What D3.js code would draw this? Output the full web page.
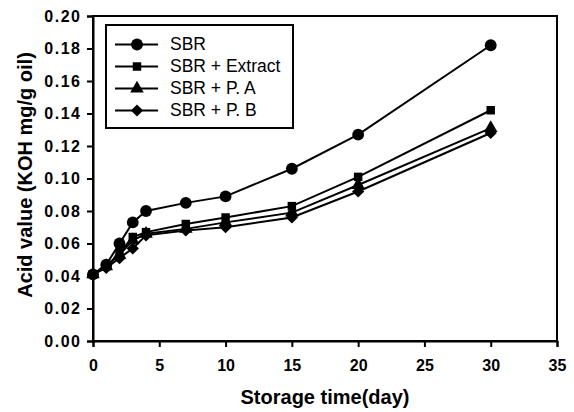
<!DOCTYPE html>
<html><head><meta charset="utf-8">
<script src="https://cdn.jsdelivr.net/npm/d3@7"></script>
<style>body{margin:0;background:#fff;} svg{display:block;}</style>
</head><body>
<svg id="c" width="574" height="412"></svg>
<script>
const days = [0, 1, 2, 3, 4, 7, 10, 15, 20, 30];
const seriesNames = ["SBR", "SBR + Extract", "SBR + P. A", "SBR + P. B"];
const sbr      = [0.041, 0.047, 0.060, 0.073, 0.080, 0.085, 0.089, 0.106, 0.127, 0.182];
const extract  = [0.041, 0.046, 0.054, 0.064, 0.067, 0.072, 0.076, 0.083, 0.101, 0.142];
const pA       = [0.041, 0.046, 0.053, 0.062, 0.066, 0.069, 0.073, 0.079, 0.096, 0.131];
const pB       = [0.041, 0.045, 0.051, 0.057, 0.065, 0.068, 0.070, 0.076, 0.092, 0.128];
const xTicks = [0, 5, 10, 15, 20, 25, 30, 35];
const yTicks = [0, 0.02, 0.04, 0.06, 0.08, 0.10, 0.12, 0.14, 0.16, 0.18, 0.20];
const symbols = [d3.symbolCircle, d3.symbolSquare, d3.symbolTriangle, d3.symbolSquare];
const symRot = [0, 0, 0, 45];
const symSizes = [110, 72, 80, 75];
const allSeries = [sbr, extract, pA, pB];

const svg = d3.select("#c");
const L = 93, R = 557, T = 16, B = 341;
const x = d3.scaleLinear().domain([0, 35]).range([L, R]);
const y = d3.scaleLinear().domain([0, 0.2]).range([B, T]);
const font = "'Liberation Sans', Arial, sans-serif";

// frame
svg.append("rect").attr("x", L).attr("y", T).attr("width", R - L).attr("height", B - T)
  .attr("fill", "none").attr("stroke", "#000").attr("stroke-width", 2);

const xa = svg.append("g").attr("transform", `translate(0,${B})`)
  .call(d3.axisBottom(x).tickValues(xTicks).tickSize(6).tickPadding(13).tickFormat(d3.format("d")));
const ya = svg.append("g").attr("transform", `translate(${L},0)`)
  .call(d3.axisLeft(y).tickValues(yTicks).tickSize(6).tickPadding(7).tickFormat(d3.format(".2f")));
[xa, ya].forEach(a => {
  a.select(".domain").attr("stroke-width", 2);
  a.selectAll(".tick line").attr("stroke-width", 2);
  a.selectAll("text").attr("font-family", font).attr("font-size", 16).attr("font-weight", "bold").attr("fill", "#000");
});
ya.selectAll("text").attr("letter-spacing", 1.5).attr("dx", 1.5);

svg.append("text").attr("x", (L + R) / 2).attr("y", 404).attr("text-anchor", "middle")
  .attr("font-family", font).attr("font-size", 20).attr("font-weight", "bold").text("Storage time(day)");
svg.append("text").attr("transform", `translate(32,175) rotate(-90)`).attr("text-anchor", "middle")
  .attr("font-family", font).attr("font-size", 20).attr("font-weight", "bold").text("Acid value (KOH mg/g oil)");

const line = d3.line().x((d, i) => x(days[i])).y(d => y(d));
allSeries.forEach((s, k) => {
  svg.append("path").datum(s).attr("d", line).attr("fill", "none").attr("stroke", "#000").attr("stroke-width", 2);
  svg.append("g").selectAll("path").data(s).join("path")
    .attr("transform", (d, i) => `translate(${x(days[i])},${y(d)}) rotate(${symRot[k]})`)
    .attr("d", d3.symbol(symbols[k], symSizes[k])).attr("fill", "#000");
});

// legend
const lg = svg.append("g");
lg.append("rect").attr("x", 106).attr("y", 25).attr("width", 187).attr("height", 103)
  .attr("fill", "#fff").attr("stroke", "#000").attr("stroke-width", 2);
seriesNames.forEach((n, k) => {
  const yy = 44.5 + k * 22;
  lg.append("line").attr("x1", 115).attr("x2", 158).attr("y1", yy).attr("y2", yy).attr("stroke", "#000").attr("stroke-width", 2);
  lg.append("path").attr("transform", `translate(137,${yy}) rotate(${symRot[k]})`).attr("d", d3.symbol(symbols[k], symSizes[k])).attr("fill", "#000");
  lg.append("text").attr("x", 170).attr("y", yy + 5.5).attr("font-family", font).attr("font-size", 17.5).text(n);
});
</script>
</body></html>
